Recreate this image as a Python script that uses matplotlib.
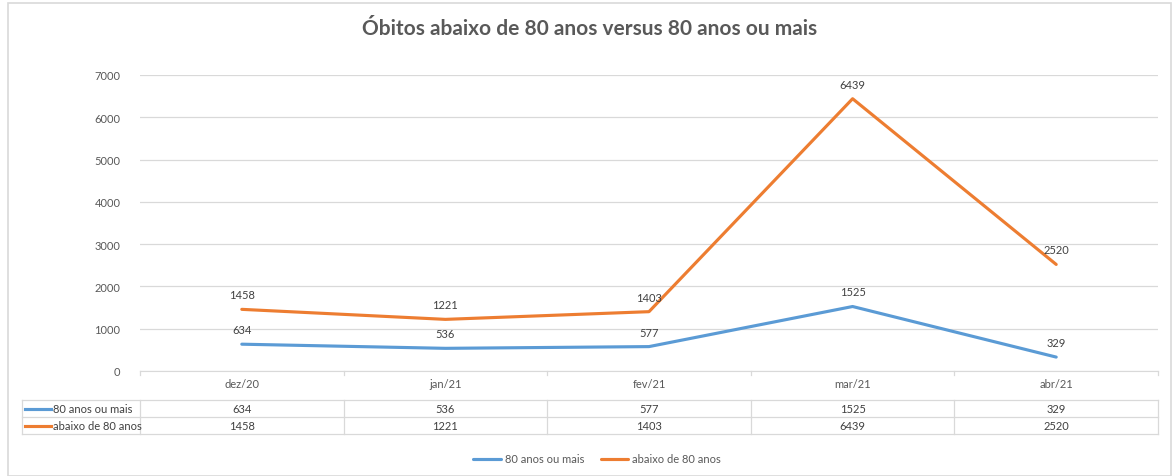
import matplotlib.pyplot as plt
import numpy as np
from matplotlib.lines import Line2D
from matplotlib.patches import Rectangle

plt.rcParams['font.family'] = ['Lato', 'DejaVu Sans']

meses = ["dez/20", "jan/21", "fev/21", "mar/21", "abr/21"]
mais_80 = [634, 536, 577, 1525, 329]
abaixo_80 = [1458, 1221, 1403, 6439, 2520]
series_nomes = ["80 anos ou mais", "abaixo de 80 anos"]
cores = ["#5B9BD5", "#ED7D31"]

W, H = 1175, 477
fig = plt.figure(figsize=(W / 100, H / 100), dpi=100)


def fy(py):
    # pixel row (from top) -> figure fraction
    return 1 - py / H


def fx(px):
    return px / W


# outer chart border
fig.patches.append(Rectangle((fx(8), fy(477)), fx(1171) - fx(8), fy(4) - fy(477),
                             transform=fig.transFigure, fill=False,
                             edgecolor="#D9D9D9", linewidth=1.2))

x0, x1, y_top, y_bot = 140, 1158, 76, 372
ax = fig.add_axes([fx(x0), fy(y_bot), fx(x1) - fx(x0), fy(y_top) - fy(y_bot)])

x = np.arange(len(meses))
for vals, nome, cor in [(mais_80, series_nomes[0], cores[0]),
                        (abaixo_80, series_nomes[1], cores[1])]:
    ax.plot(x, vals, color=cor, linewidth=2.25, label=nome, solid_capstyle="round")
    for xi, v in zip(x, vals):
        ax.annotate(str(v), (xi, v), xytext=(0, 6.5), textcoords="offset points",
                    ha="center", va="bottom", fontsize=8, color="#404040")

ax.set_xlim(-0.5, len(meses) - 0.5)
ax.set_ylim(0, 7000)
ax.set_yticks(range(0, 7001, 1000))
ax.yaxis.grid(True, color="#D9D9D9", linewidth=0.9)
ax.set_axisbelow(True)
for s in ["top", "right", "left"]:
    ax.spines[s].set_visible(False)
ax.spines["bottom"].set_color("#D9D9D9")
ax.tick_params(axis="y", length=0, labelsize=8, labelcolor="#595959", pad=14)
ax.set_xticks([])

# data table below the axis
gcol = "#D9D9D9"
bounds = [fx(x0) + (fx(x1) - fx(x0)) * k / len(meses) for k in range(len(meses) + 1)]
centers = [(bounds[k] + bounds[k + 1]) / 2 for k in range(len(meses))]
r_top, r_mid, r_bot = 401, 418, 435
tleft = fx(22)


def hline(xa, xb, py):
    fig.add_artist(Line2D([xa, xb], [fy(py), fy(py)], color=gcol, linewidth=0.9))


def vline(xx, pa, pb):
    fig.add_artist(Line2D([xx, xx], [fy(pa), fy(pb)], color=gcol, linewidth=0.9))


for k, m in enumerate(meses):
    fig.text(centers[k], fy(384), m, ha="center", va="center", fontsize=8, color="#595959")
for b in bounds:
    vline(b, y_bot, y_bot + 4)
for py in (r_top, r_mid, r_bot):
    hline(tleft, bounds[-1], py)
for b in [tleft] + bounds:
    vline(b, r_top, r_bot)

for row, (vals, nome, cor) in enumerate([(mais_80, series_nomes[0], cores[0]),
                                         (abaixo_80, series_nomes[1], cores[1])]):
    yc = fy((r_top + r_mid) / 2 + row * (r_mid - r_top))
    fig.add_artist(Line2D([fx(25), fx(51)], [yc, yc], color=cor, linewidth=2.25))
    fig.text(fx(53), yc, nome, ha="left", va="center", fontsize=8, color="#404040")
    for k, v in enumerate(vals):
        fig.text(centers[k], yc, str(v), ha="center", va="center", fontsize=8, color="#404040")

fig.text(fx(590), fy(29), "Óbitos abaixo de 80 anos versus 80 anos ou mais",
         ha="center", va="center", fontsize=15, fontweight="bold", color="#595959")

fig.legend(handles=ax.get_lines(), labels=series_nomes, loc="center",
           bbox_to_anchor=(fx(597), fy(460)), ncol=2, frameon=False, fontsize=8,
           labelcolor="#595959", handlelength=2.5, handletextpad=0.3, columnspacing=1.5)

fig.savefig("out.png", dpi=100)
